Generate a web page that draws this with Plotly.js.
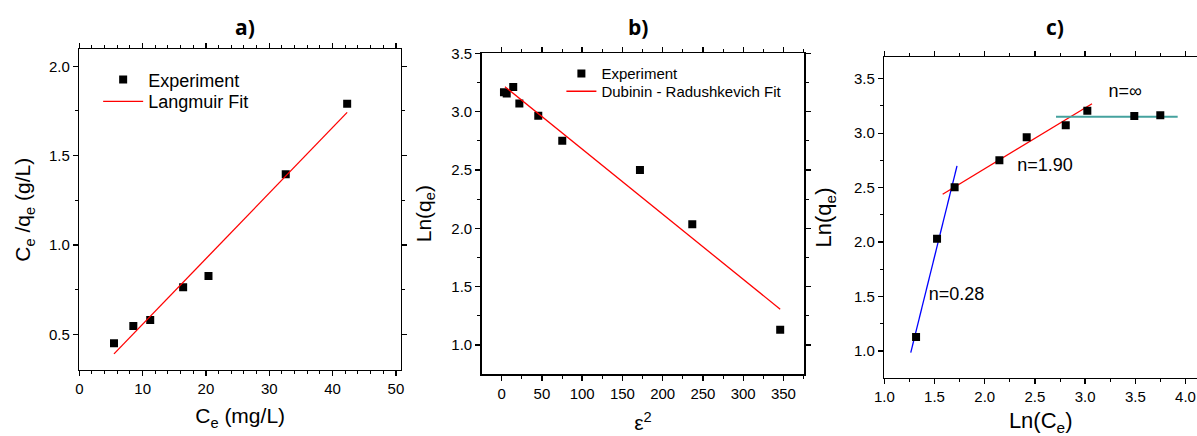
<!DOCTYPE html>
<html>
<head>
<meta charset="utf-8">
<script src="https://cdn.plot.ly/plotly-3.0.1.min.js"></script>
<style>html,body{margin:0;padding:0;background:#fff;} #chart{width:1197px;height:436px;}</style>
</head>
<body>
<div id="chart"></div>
<script>
// ---- Panel a) Langmuir ----
const ceA = [5.48, 8.53, 11.2, 16.4, 20.4, 32.6, 42.3];
const ceOverQeA = [0.45, 0.546, 0.58, 0.763, 0.826, 1.395, 1.79];
const langmuirFitX = [5.48, 42.3];
const langmuirFitY = [0.39, 1.742];

// ---- Panel b) Dubinin-Radushkevich ----
const eps2 = [2.9, 6.3, 14.4, 22, 45.5, 75.3, 171.8, 236.8, 346];
const lnQeB = [3.165, 3.155, 3.21, 3.07, 2.965, 2.75, 2.50, 2.035, 1.13];
const drFitX = [4.1, 346];
const drFitY = [3.214, 1.306];

// ---- Panel c) Freundlich segments ----
const lnCe = [1.316, 1.525, 1.70, 2.146, 2.418, 2.807, 3.022, 3.49, 3.749];
const lnQeC = [1.129, 2.031, 2.503, 2.751, 2.962, 3.072, 3.207, 3.158, 3.164];
const fitLowX = [1.263, 1.724];
const fitLowY = [0.985, 2.70];
const fitMidX = [1.581, 3.069];
const fitMidY = [2.439, 3.271];
const fitHighX = [2.71, 3.922];
const fitHighY = [3.151, 3.151];
const nLabels = ["n=0.28", "n=1.90", "n=∞"];
const nLabelX = [1.72, 2.60, 3.40];
const nLabelY = [1.51, 2.69, 3.37];

const panelTitles = ["a)", "b)", "c)"];

const FONT = "Liberation Sans, Arial, sans-serif";
const marker = {symbol: "square", size: 8, color: "#000"};

const traces = [
  {x: ceA, y: ceOverQeA, mode: "markers", type: "scatter", name: "Experiment",
   marker: marker, xaxis: "x", yaxis: "y", legend: "legend"},
  {x: langmuirFitX, y: langmuirFitY, mode: "lines", type: "scatter", name: "Langmuir Fit",
   line: {color: "#ff0000", width: 1.3}, xaxis: "x", yaxis: "y", legend: "legend3"},

  {x: eps2, y: lnQeB, mode: "markers", type: "scatter", name: "Experiment",
   marker: marker, xaxis: "x2", yaxis: "y2", legend: "legend2"},
  {x: drFitX, y: drFitY, mode: "lines", type: "scatter", name: "Dubinin - Radushkevich Fit",
   line: {color: "#ff0000", width: 1.3}, xaxis: "x2", yaxis: "y2", legend: "legend4"},

  {x: fitLowX, y: fitLowY, mode: "lines", type: "scatter", showlegend: false,
   line: {color: "#0000ff", width: 1.3}, xaxis: "x3", yaxis: "y3"},
  {x: fitMidX, y: fitMidY, mode: "lines", type: "scatter", showlegend: false,
   line: {color: "#ff0000", width: 1.3}, xaxis: "x3", yaxis: "y3"},
  {x: fitHighX, y: fitHighY, mode: "lines", type: "scatter", showlegend: false,
   line: {color: "#45a29e", width: 2}, xaxis: "x3", yaxis: "y3"},
  {x: lnCe, y: lnQeC, mode: "markers", type: "scatter", showlegend: false,
   marker: marker, xaxis: "x3", yaxis: "y3"},
  {x: nLabelX, y: nLabelY, text: nLabels, mode: "text", type: "scatter", showlegend: false,
   textfont: {family: FONT, size: 18, color: "#000"}, textposition: "middle center",
   xaxis: "x3", yaxis: "y3", hoverinfo: "skip"}
];

function axisBase(extra) {
  return Object.assign({
    showline: true, linecolor: "#000", linewidth: 1.5, mirror: "ticks",
    ticks: "outside", ticklen: 5, tickwidth: 1.3, tickcolor: "#000",
    showgrid: false, zeroline: false, automargin: false,
    tickfont: {family: FONT, size: 15, color: "#000"}
  }, extra);
}
function minorTicks(d) {
  return {ticks: "outside", ticklen: 3, tickwidth: 1, tickcolor: "#000", dtick: d, tick0: 0, showgrid: false};
}
const titleFont = {family: FONT, size: 21, color: "#000"};
const titleFontC = {family: FONT, size: 22, color: "#000"};
function legendAt(x, y, size) {
  return {x: x, y: y, xanchor: "left", yanchor: "top", bgcolor: "rgba(0,0,0,0)",
    font: {family: FONT, size: size, color: "#000"}, itemwidth: 30};
}

const layout = {
  width: 1197, height: 436,
  margin: {l: 0, r: 0, t: 0, b: 0},
  paper_bgcolor: "#fff", plot_bgcolor: "#fff",
  font: {family: FONT, color: "#000"},
  xaxis: axisBase({domain: [0.06625, 0.3350], range: [0, 50.8], dtick: 10, tick0: 0,
    minor: minorTicks(2),
    title: {text: "C<sub>e</sub> (mg/L)", font: titleFont, standoff: 12}, anchor: "y"}),
  yaxis: axisBase({domain: [0.1514, 0.8865], range: [0.30, 2.094], dtick: 0.5, tick0: 0, tickformat: ".1f",
    minor: minorTicks(0.25),
    title: {text: "C<sub>e</sub> /q<sub>e</sub> (g/L)", font: titleFont, standoff: 12}, anchor: "x"}),

  xaxis2: axisBase({domain: [0.4024, 0.6719], range: [-24.8, 375.9], dtick: 50, tick0: 0,
    minor: minorTicks(25),
    title: {text: "ε<sup>2</sup>", font: titleFont, standoff: 15}, anchor: "y2"}),
  yaxis2: axisBase({domain: [0.1422, 0.8778], range: [0.751, 3.5], dtick: 0.5, tick0: 0, tickformat: ".1f",
    minor: minorTicks(0.25),
    title: {text: "Ln(q<sub>e</sub>)", font: titleFont, standoff: 14}, anchor: "x2"}),

  xaxis3: axisBase({domain: [0.7388, 1], range: [1.0, 4.1145], dtick: 0.5, tick0: 0, tickformat: ".1f",
    minor: minorTicks(0.25),
    title: {text: "Ln(C<sub>e</sub>)", font: titleFontC, standoff: 26}, anchor: "y3"}),
  yaxis3: axisBase({domain: [0.1337, 0.8686], range: [0.755, 3.697], dtick: 0.5, tick0: 0, tickformat: ".1f",
    mirror: false, minor: minorTicks(0.25),
    title: {text: "Ln(q<sub>e</sub>)", font: titleFontC, standoff: 16}, anchor: "x3"}),

  legend: Object.assign(legendAt(0.082, 0.8592, 18), {itemwidth: 40}),
  legend3: Object.assign(legendAt(0.082, 0.8094, 18), {itemwidth: 40}),
  legend2: legendAt(0.469, 0.8686, 15),
  legend4: legendAt(0.469, 0.828, 15),

  annotations: panelTitles.map((t, i) => ({
    text: "<b>" + t + "</b>", xref: "paper", yref: "paper",
    x: [0.2047, 0.533, 0.8815][i], y: 1 - 27 / 436, xanchor: "center", yanchor: "middle",
    showarrow: false, font: {family: "Open Sans, sans-serif", size: 21, color: "#000"}
  }))
};

Plotly.newPlot("chart", traces, layout, {displayModeBar: false, staticPlot: true});
</script>
</body>
</html>
